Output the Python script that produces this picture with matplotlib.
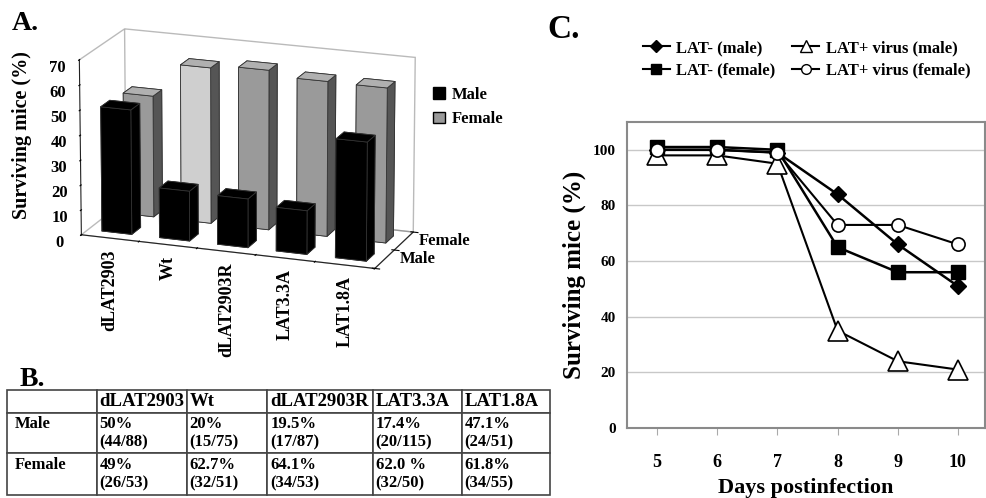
import numpy as np
import matplotlib
matplotlib.use("Agg")
import matplotlib.pyplot as plt
from matplotlib.patches import Patch
from matplotlib.lines import Line2D
from mpl_toolkits.mplot3d import proj3d

plt.rcParams['font.family'] = ['Liberation Serif', 'DejaVu Serif']
plt.rcParams['font.weight'] = 'bold'
plt.rcParams['axes.labelweight'] = 'bold'

# ---------------- data ----------------
categories = ["dLAT2903", "Wt", "dLAT2903R", "LAT3.3A", "LAT1.8A"]
male_pct = [50, 20, 19.5, 17.4, 47.1]
female_pct = [49, 62.7, 64.1, 62.0, 61.8]
sexes = ["Male", "Female"]

male_pct_txt = ["50%", "20%", "19.5%", "17.4%", "47.1%"]
male_frac_txt = ["(44/88)", "(15/75)", "(17/87)", "(20/115)", "(24/51)"]
female_pct_txt = ["49%", "62.7%", "64.1%", "62.0 %", "61.8%"]
female_frac_txt = ["(26/53)", "(32/51)", "(34/53)", "(32/50)", "(34/55)"]

days = [5, 6, 7, 8, 9, 10]
lat_minus_male = [100, 100, 99, 84, 66, 51]
lat_minus_female = [101, 101, 100, 65, 56, 56]
lat_plus_male = [98, 98, 95, 35, 24, 21]
lat_plus_female = [100, 100, 99, 73, 73, 66]

W, H = 987, 498
fig = plt.figure(figsize=(W / 100, H / 100), dpi=100)

def fx(px):
    return px / W

def fy(py):
    return 1 - py / H

# ---------------- panel A (3D bars) ----------------
ax3 = fig.add_axes([fx(8), fy(316), fx(470), 330 / H], projection='3d')
n = len(categories)
xs = np.arange(n) + 0.24
bx = np.concatenate([xs, xs])
by = np.concatenate([np.full(n, 0.3), np.full(n, 1.3)])
bdz = np.concatenate([male_pct, female_pct])
face_cols = []
for i in range(n):
    face_cols += ['#000000'] * 6
for i in range(n):
    front = '#cfcfcf' if categories[i] == 'Wt' else '#9a9a9a'
    face_cols += ['#9a9a9a', '#b0b0b0', front, '#9a9a9a', '#9a9a9a', '#555555']
ax3.bar3d(bx, by, np.zeros(2 * n), 0.52, 0.4, bdz, color=face_cols,
          shade=False, edgecolor='#333333', linewidth=0.6)
ax3.set_xlim(0, n)
ax3.set_ylim(0, 2)
ax3.set_zlim(0, 70)
ax3.view_init(elev=17, azim=-70)
ax3.set_proj_type('persp', focal_length=2.5)
ax3.set_box_aspect((1.7, 0.67, 1.0), zoom=1.12)
ax3.set_xticks(np.arange(n + 1))
ax3.set_xticklabels([])
ax3.set_yticks([0, 1, 2])
ax3.set_yticklabels([])
ax3.set_zticks(np.arange(0, 71, 10))
ax3.zaxis.set_ticks_position('lower')
ax3.zaxis.set_label_position('lower')
ax3.tick_params(axis='z', labelsize=12, pad=0)
ax3.grid(False)
for axis in (ax3.xaxis, ax3.yaxis, ax3.zaxis):
    axis.pane.fill = False
    axis.pane.set_edgecolor('#777777')
    axis.line.set_color('#222222')

M = ax3.get_proj()
for i, c in enumerate(categories):
    xp, yp, _ = proj3d.proj_transform(i + 0.5, 0, 0, M)
    ax3.annotate(c, xy=(xp, yp), xycoords='data', xytext=(0, -8), textcoords='offset points',
                 rotation=90, ha='center', va='top', fontsize=13, annotation_clip=False)
for j, s in enumerate(sexes):
    xp, yp, _ = proj3d.proj_transform(n, j + 0.5, 0, M)
    ax3.annotate(s, xy=(xp, yp), xycoords='data', xytext=(11, 0), textcoords='offset points',
                 ha='left', va='center', fontsize=12, annotation_clip=False)

fig.text(fx(22), fy(135), "Surviving mice (%)", rotation=90, ha='center', va='center', fontsize=14.5)
fig.text(fx(12), fy(24), "A.", fontsize=20, ha='left', va='center')
fig.legend(handles=[Patch(facecolor='black', edgecolor='black'),
                    Patch(facecolor='#9a9a9a', edgecolor='black')],
           labels=["Male", "Female"], loc='upper left', bbox_to_anchor=(fx(418), fy(72)),
           frameon=False, fontsize=12, handlelength=0.7, handleheight=0.7,
           handletextpad=0.4, labelspacing=0.5)

# ---------------- panel B (table) ----------------
fig.text(fx(20), fy(379), "B.", fontsize=20, ha='left', va='center')
axt = fig.add_axes([fx(7), fy(495), fx(550 - 7), (495 - 390) / H])
axt.axis('off')
cell_text = [[""] + categories,
             ["Male\n "] + [p + "\n" + f for p, f in zip(male_pct_txt, male_frac_txt)],
             ["Female\n "] + [p + "\n" + f for p, f in zip(female_pct_txt, female_frac_txt)]]
col_w = [90, 90, 80, 106, 89, 88]
tab = axt.table(cellText=cell_text, cellLoc='left', colWidths=[w / sum(col_w) for w in col_w],
                bbox=[0, 0, 1, 1])
tab.auto_set_font_size(False)
row_h = [23, 40, 42]
for (r, c), cell in tab.get_celld().items():
    cell.set_height(row_h[r] / sum(row_h))
    cell.set_edgecolor('#444444')
    cell.set_linewidth(1.2)
    cell.PAD = 0.03 if c > 0 else 0.09
    t = cell.get_text()
    t.set_fontsize(13.5 if r == 0 else 12)
    t.set_fontweight('bold')
    t.set_linespacing(1.15)

# ---------------- panel C (lines) ----------------
axc = fig.add_axes([fx(627), fy(428), fx(985 - 627), (428 - 122) / H])
axc.set_xlim(4.5, 10.45)
axc.set_ylim(0, 110)
axc.set_yticks([0, 20, 40, 60, 80, 100])
axc.set_xticks(days)
axc.yaxis.grid(True, color='#c8c8c8', linewidth=1)
axc.set_axisbelow(True)
for s in axc.spines.values():
    s.set_color('#8a8a8a')
    s.set_linewidth(1.5)
axc.tick_params(axis='y', length=0, labelsize=11, pad=8)
axc.tick_params(axis='x', length=5, color='#aaaaaa', labelsize=13, pad=14)
axc.plot(days, lat_minus_male, color='black', lw=1.8, marker='D', ms=8.5, mfc='black', mec='black')
axc.plot(days, lat_minus_female, color='black', lw=1.8, marker='s', ms=9.5, mfc='black', mec='black')
axc.plot(days, lat_plus_male, color='black', lw=1.5, marker='^', ms=15, mfc='white', mec='black', mew=1.2)
axc.plot(days, lat_plus_female, color='black', lw=1.5, marker='o', ms=9.5, mfc='white', mec='black', mew=1.2)
axc.set_ylabel("Surviving mice (%)", fontsize=18, labelpad=5, fontweight='bold')
axc.set_xlabel("Days postinfection", fontsize=16, labelpad=5, fontweight='bold')
fig.text(fx(547), fy(30), "C.", fontsize=24, ha='left', va='center')
fig.legend(handles=[Line2D([], [], color='k', marker='D', ms=6), Line2D([], [], color='k', marker='s', ms=7),
                    Line2D([], [], color='k', marker='^', ms=9, mfc='white'),
                    Line2D([], [], color='k', marker='o', ms=7, mfc='white')],
           labels=["LAT- (male)", "LAT- (female)", "LAT+ virus (male)", "LAT+ virus (female)"],
           ncol=2, loc='upper left', bbox_to_anchor=(fx(628), fy(25)), frameon=False,
           fontsize=12, handlelength=1.6, handletextpad=0.4, columnspacing=1.0, labelspacing=0.4)

fig.savefig("out.png", dpi=100)
